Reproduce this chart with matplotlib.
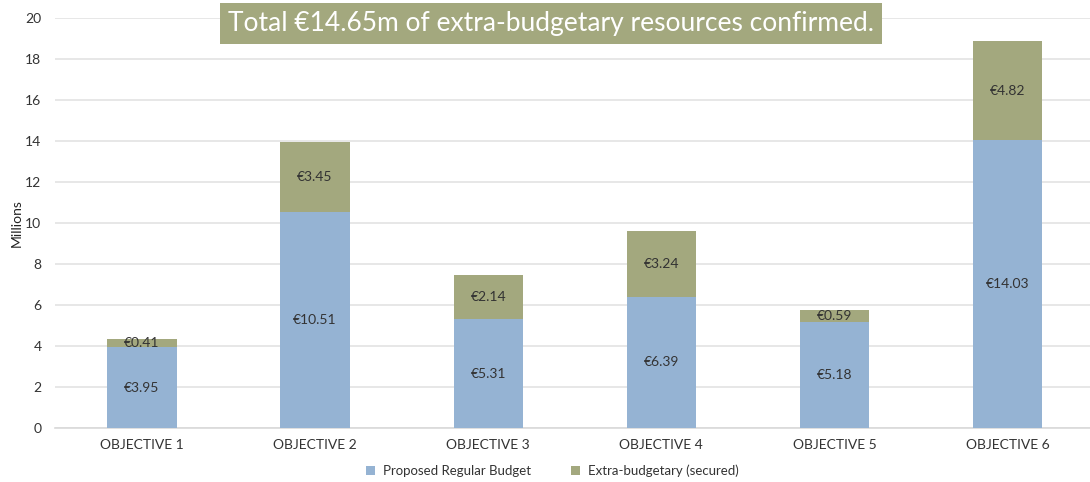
import matplotlib
matplotlib.use("Agg")
import matplotlib.pyplot as plt
import numpy as np

plt.rcParams["font.family"] = ["Lato", "DejaVu Sans"]

categories = ["OBJECTIVE 1", "OBJECTIVE 2", "OBJECTIVE 3",
              "OBJECTIVE 4", "OBJECTIVE 5", "OBJECTIVE 6"]
regular = [3.95, 10.51, 5.31, 6.39, 5.18, 14.03]
extra = [0.41, 3.45, 2.14, 3.24, 0.59, 4.82]

BLUE = "#95B3D3"
GREEN = "#A3A87E"

fig = plt.figure(figsize=(10.9, 4.82), dpi=100)
ax = fig.add_axes([0.0508, 0.112, 0.953, 0.851])

x = np.arange(len(categories))
b1 = ax.bar(x, regular, width=0.4, color=BLUE, label="Proposed Regular Budget", zorder=3)
b2 = ax.bar(x, extra, width=0.4, bottom=regular, color=GREEN,
            label="Extra-budgetary (secured)", zorder=3)

for i in range(len(categories)):
    ax.text(x[i], regular[i] / 2, f"€{regular[i]:.2f}", ha="center", va="center",
            fontsize=10, color="#333333", zorder=4)
    ax.text(x[i], regular[i] + extra[i] / 2, f"€{extra[i]:.2f}", ha="center",
            va="center", fontsize=10, color="#333333", zorder=4)

ax.set_xlim(-0.5, len(categories) - 0.5)
ax.set_ylim(0, 20)
ax.set_yticks(range(0, 21, 2))
ax.set_xticks(x)
ax.set_xticklabels(categories, fontsize=10, color="#333333")
ax.tick_params(axis="y", labelsize=10, colors="#333333", length=0, pad=10)
ax.tick_params(axis="x", length=0, pad=8)
ax.grid(axis="y", color="#E3E3E3", linewidth=1.2, zorder=0)
for side in ["top", "right", "left"]:
    ax.spines[side].set_visible(False)
ax.spines["bottom"].set_color("#D9D9D9")
ax.spines["bottom"].set_linewidth(1.2)

ax.set_ylabel("Millions", fontsize=10, color="#222222", labelpad=2)

# headline banner above the bars
fig.text(0.5055, 0.951, "Total €14.65m of extra-budgetary resources confirmed.",
         ha="center", va="center", fontsize=19, color="white",
         bbox=dict(boxstyle="square,pad=0.3", facecolor=GREEN, edgecolor="none"))

leg = fig.legend(handles=[b1, b2], loc="lower center", bbox_to_anchor=(0.507, -0.015),
                 ncol=2, frameon=False, fontsize=9.5, handlelength=0.7,
                 handleheight=0.7, columnspacing=3, handletextpad=0.6)
for t in leg.get_texts():
    t.set_color("#333333")

fig.savefig("out.png", dpi=100)
